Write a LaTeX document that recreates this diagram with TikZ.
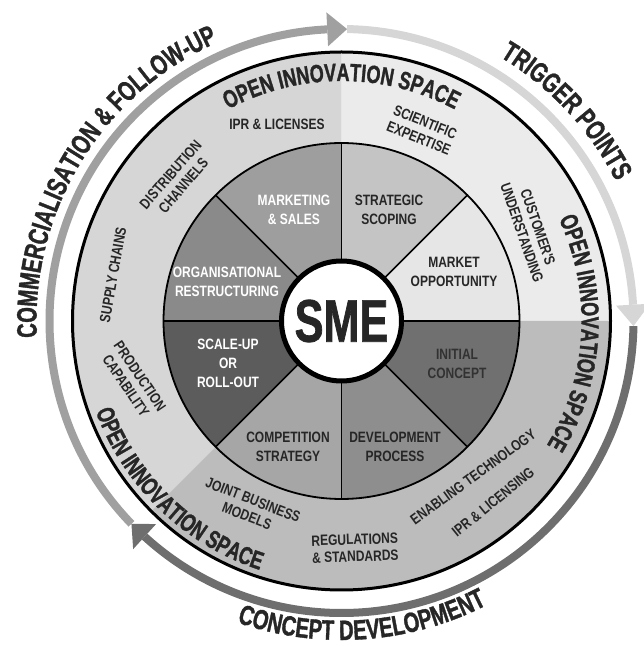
\documentclass[tikz,border=0pt]{standalone}
\usepackage{fontspec}
\setmainfont{Liberation Sans}
\newfontfamily\condfont{Liberation Sans}[FakeStretch=0.72, BoldFeatures={FakeBold=1.2}]
\newfontfamily\labelfont{Liberation Sans}[FakeStretch=0.8]
\usetikzlibrary{calc,decorations.text}

\definecolor{InkDark}{RGB}{38,38,38}
\definecolor{InkShade}{RGB}{50,50,50}
\definecolor{RingMid}{RGB}{160,160,160}
\definecolor{RingLight}{RGB}{214,214,214}
\definecolor{RingDark}{RGB}{110,110,110}
\definecolor{OuterTL}{RGB}{214,214,214}
\definecolor{OuterTR}{RGB}{235,235,235}
\definecolor{OuterB}{RGB}{188,188,188}
\definecolor{SegMarketing}{RGB}{158,158,158}
\definecolor{SegStrategic}{RGB}{196,196,196}
\definecolor{SegMarket}{RGB}{230,230,230}
\definecolor{SegInitial}{RGB}{112,112,112}
\definecolor{SegDevelop}{RGB}{142,142,142}
\definecolor{SegCompete}{RGB}{166,166,166}
\definecolor{SegScale}{RGB}{92,92,92}
\definecolor{SegOrg}{RGB}{138,138,138}

\tikzset{
  seglabel/.style={align=center, text=InkDark, font=\labelfont\bfseries\fontsize{15}{19}\selectfont},
  spacelabel/.style={align=center, text=InkDark, font=\labelfont\bfseries\fontsize{15}{17}\selectfont},
  ringline/.style={line width=8pt},
  spacearc/.style={decorate, decoration={text along path, text align=center, text color=InkDark,
    text={|\condfont\bfseries\fontsize{25}{25}\selectfont|#1}}},
  phasearc/.style={decorate, decoration={text along path, text align=center, text color=InkDark,
    text={|\condfont\bfseries\fontsize{28}{28}\selectfont|#1}}},
}

\begin{document}
\begin{tikzpicture}[x=1pt,y=1pt]
\useasboundingbox (0,0) rectangle (644,646);
\coordinate (c) at (341.5,325);

% outer open innovation ring
\fill[OuterTL] (c) -- ($(c)+(90:269)$) arc[start angle=90, end angle=225, radius=269] -- cycle;
\fill[OuterTR] (c) -- ($(c)+(0:269)$) arc[start angle=0, end angle=90, radius=269] -- cycle;
\fill[OuterB] (c) -- ($(c)+(225:269)$) arc[start angle=225, end angle=360, radius=269] -- cycle;

% eight inner segments
\fill[SegMarket] (c) -- ($(c)+(0:178)$) arc[start angle=0, end angle=45, radius=178] -- cycle;
\fill[SegStrategic] (c) -- ($(c)+(45:178)$) arc[start angle=45, end angle=90, radius=178] -- cycle;
\fill[SegMarketing] (c) -- ($(c)+(90:178)$) arc[start angle=90, end angle=135, radius=178] -- cycle;
\fill[SegOrg] (c) -- ($(c)+(135:178)$) arc[start angle=135, end angle=180, radius=178] -- cycle;
\fill[SegScale] (c) -- ($(c)+(180:178)$) arc[start angle=180, end angle=225, radius=178] -- cycle;
\fill[SegCompete] (c) -- ($(c)+(225:178)$) arc[start angle=225, end angle=270, radius=178] -- cycle;
\fill[SegDevelop] (c) -- ($(c)+(270:178)$) arc[start angle=270, end angle=315, radius=178] -- cycle;
\fill[SegInitial] (c) -- ($(c)+(315:178)$) arc[start angle=315, end angle=360, radius=178] -- cycle;

\foreach \a in {0,45,...,315}
  \draw[line width=1.6pt] ($(c)+(\a:60)$) -- ($(c)+(\a:178)$);
\draw[line width=1.8pt] (c) circle[radius=178];
\draw[line width=3pt] (c) circle[radius=269];

\node[circle, fill=white, draw=black, line width=5pt, minimum size=120pt, inner sep=0pt, text=InkDark,
  font=\condfont\bfseries\fontsize{60}{60}\selectfont] (sme) at (c) {SME};

% process ring with arrow heads
\draw[ringline, RingMid] ($(c)+(224:292)$) arc[start angle=224, end angle=92.8, radius=292];
\draw[ringline, RingLight] ($(c)+(88.9:292)$) arc[start angle=88.9, end angle=3.2, radius=292];
\draw[ringline, RingDark] ($(c)+(-1:292)$) arc[start angle=-1, end angle=-132.4, radius=292];
\fill[RingMid] ($(c)+(92.8:275)$) -- ($(c)+(92.8:309)$) -- ($(c)+(88.9:292)$) -- cycle;
\fill[RingLight] ($(c)+(3.2:275)$) -- ($(c)+(3.2:309)$) -- ($(c)+(-1:292)$) -- cycle;
\fill[RingDark] ($(c)+(227.6:275)$) -- ($(c)+(227.6:309)$) -- ($(c)+(224:292)$) -- cycle;

% curved titles
\path[spacearc={OPEN INNOVATION SPACE}] ($(c)+(140:240)$) arc[start angle=140, end angle=40, radius=240];
\path[spacearc={OPEN INNOVATION SPACE}] ($(c)+(50:240)$) arc[start angle=50, end angle=-56, radius=240];
\path[spacearc={OPEN INNOVATION SPACE}] ($(c)+(170:262)$) arc[start angle=170, end angle=282, radius=262];
\path[phasearc={COMMERCIALISATION {\&} FOLLOW-UP}] ($(c)+(200:305)$) arc[start angle=200, end angle=97, radius=305];
\path[phasearc={TRIGGER POINTS}] ($(c)+(80:308)$) arc[start angle=80, end angle=6, radius=308];
\path[phasearc={CONCEPT DEVELOPMENT}] ($(c)+(240:319)$) arc[start angle=240, end angle=308, radius=319];

% inner segment labels
\node[seglabel, text=white] (marketing) at (294,436) {MARKETING\\\& SALES};
\node[seglabel] (strategic) at (389,436) {STRATEGIC\\SCOPING};
\node[seglabel] (market) at (454,374) {MARKET\\OPPORTUNITY};
\node[seglabel, text=InkShade] (initial) at (457,282) {INITIAL\\CONCEPT};
\node[seglabel] (develop) at (395,199) {DEVELOPMENT\\PROCESS};
\node[seglabel] (compete) at (288,199) {COMPETITION\\STRATEGY};
\node[seglabel, text=white] (scale) at (228,283) {SCALE-UP\\OR\\ROLL-OUT};
\node[seglabel, text=white] (organise) at (227,364) {ORGANISATIONAL\\RESTRUCTURING};

% open innovation space labels
\node[spacelabel] (licenses) at (277,522) {IPR \& LICENSES};
\node[spacelabel, rotate=49] (distribution) at (177,466) {DISTRIBUTION\\CHANNELS};
\node[spacelabel, rotate=80] (supply) at (113,371) {SUPPLY CHAINS};
\node[spacelabel, rotate=-56] (production) at (133,265) {PRODUCTION\\CAPABILITY};
\node[spacelabel, rotate=-22] (scientific) at (422,516) {SCIENTIFIC\\EXPERTISE};
\node[spacelabel, rotate=-71] (customer) at (530,416) {CUSTOMER'S\\UNDERSTANDING};
\node[spacelabel, rotate=36] (enabling) at (473,169) {ENABLING TECHNOLOGY};
\node[spacelabel, rotate=39] (licensing) at (493,144) {IPR \& LICENSING};
\node[spacelabel, rotate=2] (regulations) at (355,98) {REGULATIONS\\\& STANDARDS};
\node[spacelabel, rotate=-21] (joint) at (250,138) {JOINT BUSINESS\\MODELS};

\end{tikzpicture}
\end{document}
